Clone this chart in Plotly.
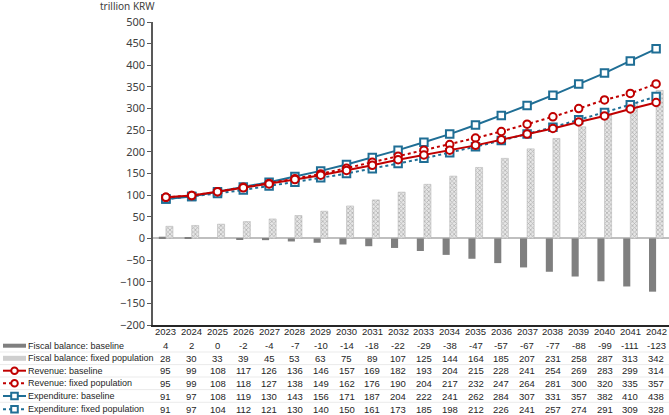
import plotly.graph_objects as go

years = [str(y) for y in range(2023, 2043)]
fb_base = [4, 2, 0, -2, -4, -7, -10, -14, -18, -22, -29, -38, -47, -57, -67, -77, -88, -99, -111, -123]
fb_fixed = [28, 30, 33, 39, 45, 53, 63, 75, 89, 107, 125, 144, 164, 185, 207, 231, 258, 287, 313, 342]
rev_base = [95, 99, 108, 117, 126, 136, 146, 157, 169, 182, 193, 204, 215, 228, 241, 254, 269, 283, 299, 314]
rev_fixed = [95, 99, 108, 118, 127, 138, 149, 162, 176, 190, 204, 217, 232, 247, 264, 281, 300, 320, 335, 357]
exp_base = [91, 97, 108, 119, 130, 143, 156, 171, 187, 204, 222, 241, 262, 284, 307, 331, 357, 382, 410, 438]
exp_fixed = [91, 97, 104, 112, 121, 130, 140, 150, 161, 173, 185, 198, 212, 226, 241, 257, 274, 291, 309, 328]
labels = ["Fiscal balance: baseline", "Fiscal balance: fixed population",
          "Revenue: baseline", "Revenue: fixed population",
          "Expenditure: baseline", "Expenditure: fixed population"]
y_title = "trillion KRW"

W, H = 669, 415
L, R, T, B = 153, 0, 22, 90
PW, PH = W - L - R, H - T - B

def px(x):
    return (x - L) / PW

def py(y):
    return (H - B - y) / PH

RED = "#C00000"
BLUE = "#1F6E95"
GRAY = "#7F7F7F"

fig = go.Figure()
fig.add_trace(go.Bar(x=years, y=fb_base, name=labels[0], marker=dict(color=GRAY, line=dict(width=0))))
fig.add_trace(go.Bar(x=years, y=fb_fixed, name=labels[1],
                     marker=dict(color="white", line=dict(width=0.5, color="#B0B0B0"),
                                 pattern=dict(shape="x", size=3, solidity=0.45, fgcolor="#808080", bgcolor="#E6E6E6"))))
mk_c = dict(symbol="circle", size=7.5, color="white", line=dict(width=2, color=RED))
mk_s = dict(symbol="square", size=7.5, color="white", line=dict(width=2, color=BLUE))
fig.add_trace(go.Scatter(x=years, y=exp_base, mode="lines+markers", line=dict(color=BLUE, width=2), marker=mk_s))
fig.add_trace(go.Scatter(x=years, y=exp_fixed, mode="lines+markers", line=dict(color=BLUE, width=2, dash="dot"), marker=mk_s))
fig.add_trace(go.Scatter(x=years, y=rev_fixed, mode="lines+markers", line=dict(color=RED, width=2, dash="dot"), marker=mk_c))
fig.add_trace(go.Scatter(x=years, y=rev_base, mode="lines+markers", line=dict(color=RED, width=2), marker=mk_c))

TF = dict(family="Liberation Sans, Arial", size=9.5, color="#262626")
LF = dict(family="Liberation Sans, Arial", size=9, color="#262626")
row_y = [331.7, 345.7, 358.3, 370.7, 383.3, 396, 409.3]
rows = [fb_base, fb_fixed, rev_base, rev_fixed, exp_base, exp_fixed]
ann = []
shapes = []
for j, yr in enumerate(years):
    ann.append(dict(x=j, xref="x", y=py(row_y[0]), yref="paper", text=yr, showarrow=False,
                    font=TF, xanchor="center", yanchor="middle"))
for i, (lab, vals) in enumerate(zip(labels, rows)):
    yy = row_y[i + 1]
    ann.append(dict(x=px(26), xref="paper", y=py(yy), yref="paper", text=lab, showarrow=False,
                    font=LF, xanchor="left", yanchor="middle"))
    for j, v in enumerate(vals):
        ann.append(dict(x=j, xref="x", y=py(yy), yref="paper", text=str(v), showarrow=False,
                        font=TF, xanchor="center", yanchor="middle"))
    shapes.append(dict(type="line", xref="paper", yref="paper", x0=px(0), x1=px(W), y0=py(yy + 6.3), y1=py(yy + 6.3),
                       line=dict(color="#EBEBEB", width=1), layer="below"))

def key_line(yy, color, dash, marker):
    shapes.append(dict(type="line", xref="paper", yref="paper", x0=px(3), x1=px(26), y0=py(yy), y1=py(yy),
                       line=dict(color=color, width=2, dash=dash)))
    cx = 14.5
    r = 3.3
    shapes.append(dict(type=marker, xref="paper", yref="paper", x0=px(cx - r), x1=px(cx + r), y0=py(yy - r), y1=py(yy + r),
                       fillcolor="white", line=dict(color=color, width=2)))

shapes.append(dict(type="rect", xref="paper", yref="paper", x0=px(3), x1=px(26), y0=py(row_y[1] - 2), y1=py(row_y[1] + 2),
                   fillcolor=GRAY, line=dict(width=0)))
shapes.append(dict(type="rect", xref="paper", yref="paper", x0=px(3), x1=px(26), y0=py(row_y[2] - 2.5), y1=py(row_y[2] + 2.5),
                   fillcolor="#CFCFCF", line=dict(width=0)))
key_line(row_y[3], RED, "solid", "circle")
key_line(row_y[4], RED, "dot", "circle")
key_line(row_y[5], BLUE, "solid", "rect")
key_line(row_y[6], BLUE, "dot", "rect")

ann.append(dict(x=px(127), xref="paper", y=py(6), yref="paper", text=y_title, showarrow=False,
                font=dict(family="Noto Sans", size=10, color="#404040"), xanchor="center", yanchor="middle"))

fig.update_layout(
    width=W, height=H, margin=dict(l=L, r=R, t=T, b=B),
    plot_bgcolor="white", paper_bgcolor="white",
    barmode="group", bargap=0.45, bargroupgap=0,
    showlegend=False,
    xaxis=dict(type="category", range=[-0.5, len(years) - 0.5], autorange=False, showticklabels=False,
               showline=True, linecolor="#262626", linewidth=1.5, ticks="", showgrid=False, zeroline=False),
    yaxis=dict(range=[-200, 500], dtick=50, showgrid=False, showline=True, linecolor="#595959", linewidth=1.5,
               ticks="outside", ticklen=4, tickcolor="#595959", zeroline=True, zerolinecolor="#BFBFBF", zerolinewidth=1.5,
               tickfont=dict(family="Noto Sans", size=11, color="#404040")),
    annotations=ann, shapes=shapes,
)
fig.write_html("out.html")
